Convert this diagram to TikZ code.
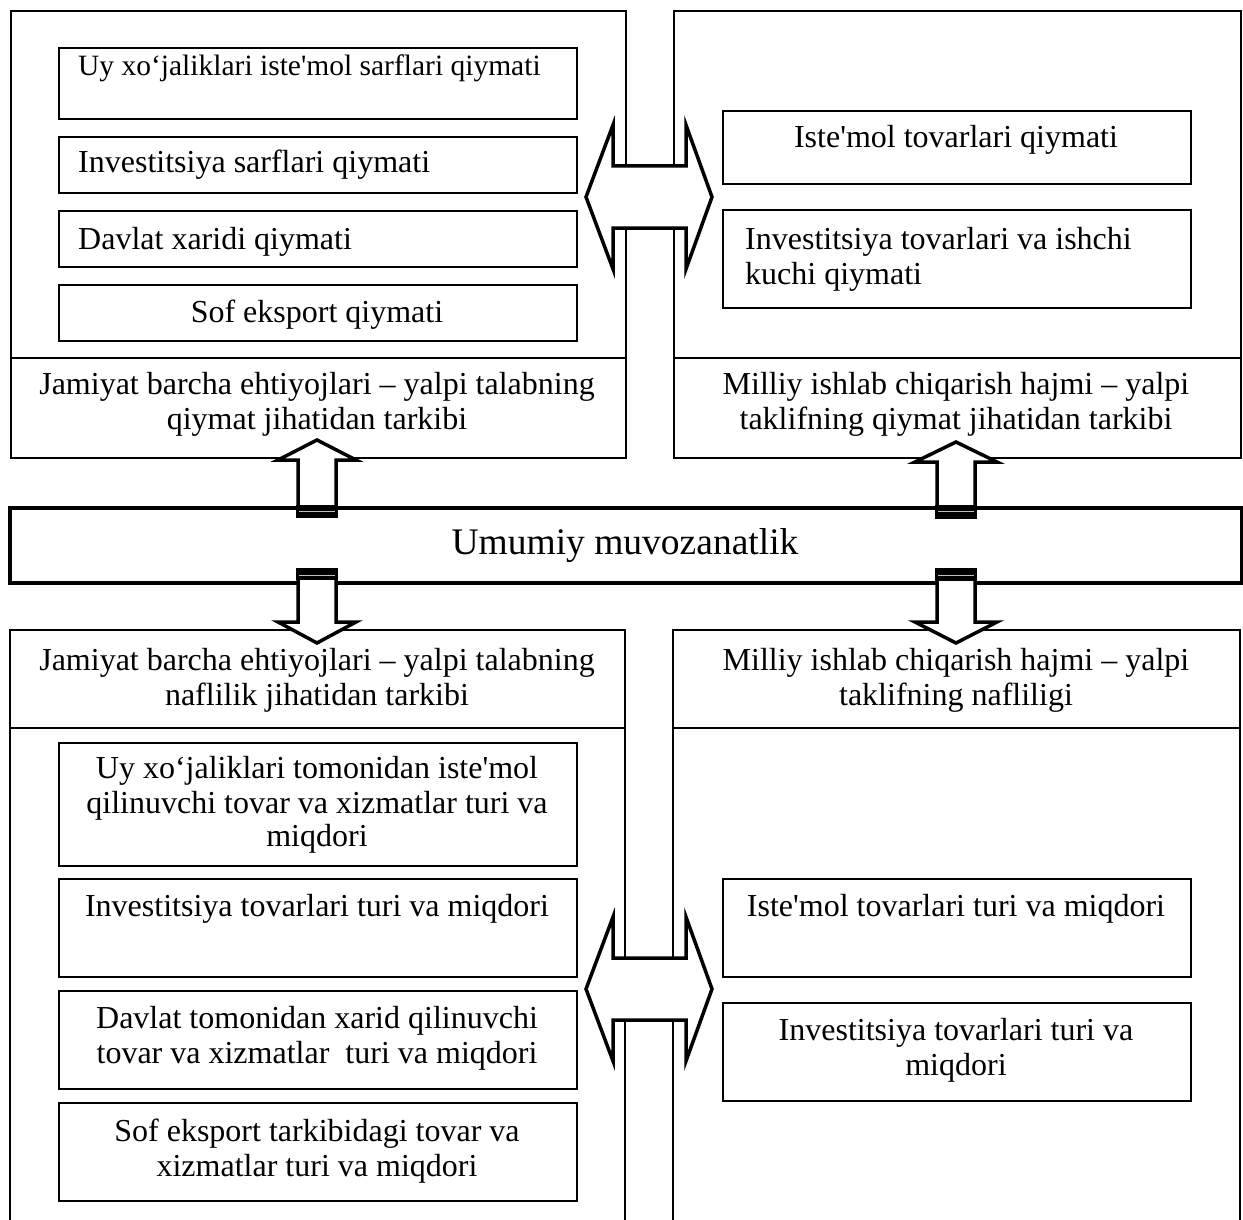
\documentclass[tikz,border=0pt]{standalone}
\usepackage{fontspec}
\newfontfamily\tnr{Liberation Serif}
\begin{document}
\begin{tikzpicture}[x=1pt,y=-1pt,
  box/.style={draw, line width=1.6pt, inner sep=0pt, anchor=north west},
  frame/.style={draw, line width=1.8pt},
  txt/.style={font=\tnr\fontsize{32}{37}\selectfont, inner sep=0pt, anchor=base},
  txtl/.style={txt, anchor=base west},
  arr/.style={draw, fill=white, line width=3.5pt, line join=miter},
  stub/.style={fill=black}]
\useasboundingbox (0,0) rectangle (1243,1220);
\fill[white] (0,0) rectangle (1243,1220);

% ---- outer frames ----
\node[box, line width=1.8pt, minimum width=615pt, minimum height=447pt] (TL) at (10,10) {};
\node[box, line width=1.8pt, minimum width=567pt, minimum height=447pt] (TR) at (673,10) {};
\draw[frame] (10,358) -- (625,358);
\draw[frame] (673,358) -- (1240,358);
\draw[frame] (10,1222) -- (10,630) -- (625,630) -- (625,1222);
\draw[frame] (673,1222) -- (673,630) -- (1240,630) -- (1240,1222);
\draw[frame] (10,728) -- (625,728);
\draw[frame] (673,728) -- (1240,728);

% ---- inner boxes, top left ----
\node[box, minimum width=518pt, minimum height=71pt] (a1) at (58,47) {};
\node[box, minimum width=518pt, minimum height=56pt] (a2) at (58,136) {};
\node[box, minimum width=518pt, minimum height=56pt] (a3) at (58,210) {};
\node[box, minimum width=518pt, minimum height=56pt] (a4) at (58,284) {};
% top right
\node[box, minimum width=468pt, minimum height=73pt] (b1) at (722,110) {};
\node[box, minimum width=468pt, minimum height=98pt] (b2) at (722,209) {};
% bottom left
\node[box, minimum width=518pt, minimum height=123pt] (c1) at (58,742) {};
\node[box, minimum width=518pt, minimum height=98pt] (c2) at (58,878) {};
\node[box, minimum width=518pt, minimum height=98pt] (c3) at (58,990) {};
\node[box, minimum width=518pt, minimum height=98pt] (c4) at (58,1102) {};
% bottom right
\node[box, minimum width=468pt, minimum height=98pt] (d1) at (722,878) {};
\node[box, minimum width=468pt, minimum height=98pt] (d2) at (722,1002) {};

% ---- central box ----
\node[box, line width=3.5pt, minimum width=1232pt, minimum height=75pt] (U) at (8,506) {};
\node[txt, font=\tnr\fontsize{37.5}{43}\selectfont] (Ut) at (625,554) {Umumiy muvozanatlik};

% ---- texts top left ----
\node[txtl, font=\tnr\fontsize{29.5}{34}\selectfont] (ta1) at (78,76) {Uy xo‘jaliklari iste'mol sarflari qiymati};
\node[txtl] (ta2) at (78,172) {Investitsiya sarflari qiymati};
\node[txtl] (ta3) at (78,249) {Davlat xaridi qiymati};
\node[txt] (ta4) at (317,322) {Sof eksport qiymati};
\node[txt] (tt1) at (317,394) {Jamiyat barcha ehtiyojlari – yalpi talabning};
\node[txt] (tt2) at (317,429) {qiymat jihatidan tarkibi};
% top right
\node[txt] (tb1) at (956,148) {Iste'mol tovarlari qiymati};
\node[txtl] (tb2) at (745,249) {Investitsiya tovarlari va ishchi};
\node[txtl] (tb3) at (745,284) {kuchi qiymati};
\node[txt] (tr1) at (956,394) {Milliy ishlab chiqarish hajmi – yalpi};
\node[txt] (tr2) at (956,429) {taklifning qiymat jihatidan tarkibi};
% bottom left
\node[txt] (bl1) at (317,670) {Jamiyat barcha ehtiyojlari – yalpi talabning};
\node[txt] (bl2) at (317,705) {naflilik jihatidan tarkibi};
\node[txt] (tc1) at (317,778) {Uy xo‘jaliklari tomonidan iste'mol};
\node[txt] (tc2) at (317,813) {qilinuvchi tovar va xizmatlar turi va};
\node[txt] (tc3) at (317,846) {miqdori};
\node[txt] (tc4) at (317,916) {Investitsiya tovarlari turi va miqdori};
\node[txt] (tc5) at (317,1028) {Davlat tomonidan xarid qilinuvchi};
\node[txt] (tc6) at (317,1063) {tovar va xizmatlar~ turi va miqdori};
\node[txt] (tc7) at (317,1141) {Sof eksport tarkibidagi tovar va};
\node[txt] (tc8) at (317,1176) {xizmatlar turi va miqdori};
% bottom right
\node[txt] (br1) at (956,670) {Milliy ishlab chiqarish hajmi – yalpi};
\node[txt] (br2) at (956,705) {taklifning nafliligi};
\node[txt] (td1) at (956,916) {Iste'mol tovarlari turi va miqdori};
\node[txt] (td2) at (956,1040) {Investitsiya tovarlari turi va};
\node[txt] (td3) at (956,1075) {miqdori};

% ---- double arrows ----
\draw[arr] (586,197) -- (613,125) -- (613,166) -- (686,166) -- (686,125) -- (712,197)
  -- (686,269) -- (686,228) -- (613,228) -- (613,269) -- cycle;
\draw[arr] (586,989) -- (613,917) -- (613,958) -- (686,958) -- (686,917) -- (712,989)
  -- (686,1061) -- (686,1020) -- (613,1020) -- (613,1061) -- cycle;

% ---- up arrows ----
\draw[arr] (298,508) -- (298,460) -- (278,460) -- (317,440) -- (356,460) -- (336,460) -- (336,508);
\fill[stub] (296,505) rectangle (338,518);
\draw[gray!50, line width=0.8pt] (299,511) -- (335,511);
\draw[arr] (937,508) -- (937,462) -- (915,462) -- (956,442) -- (997,462) -- (975,462) -- (975,508);
\fill[stub] (935,505) rectangle (977,519);
\draw[gray!50, line width=0.8pt] (938,511) -- (974,511);

% ---- down arrows ----
\draw[arr] (298,578) -- (298,622) -- (278,622) -- (317,643) -- (356,622) -- (336,622) -- (336,578);
\fill[stub] (296,568) rectangle (338,580);
\draw[gray!50, line width=0.8pt] (299,575) -- (335,575);
\draw[arr] (937,578) -- (937,622) -- (915,622) -- (956,643) -- (997,622) -- (975,622) -- (975,578);
\fill[stub] (935,568) rectangle (977,581);
\draw[gray!50, line width=0.8pt] (938,575) -- (974,575);
\end{tikzpicture}
\end{document}
